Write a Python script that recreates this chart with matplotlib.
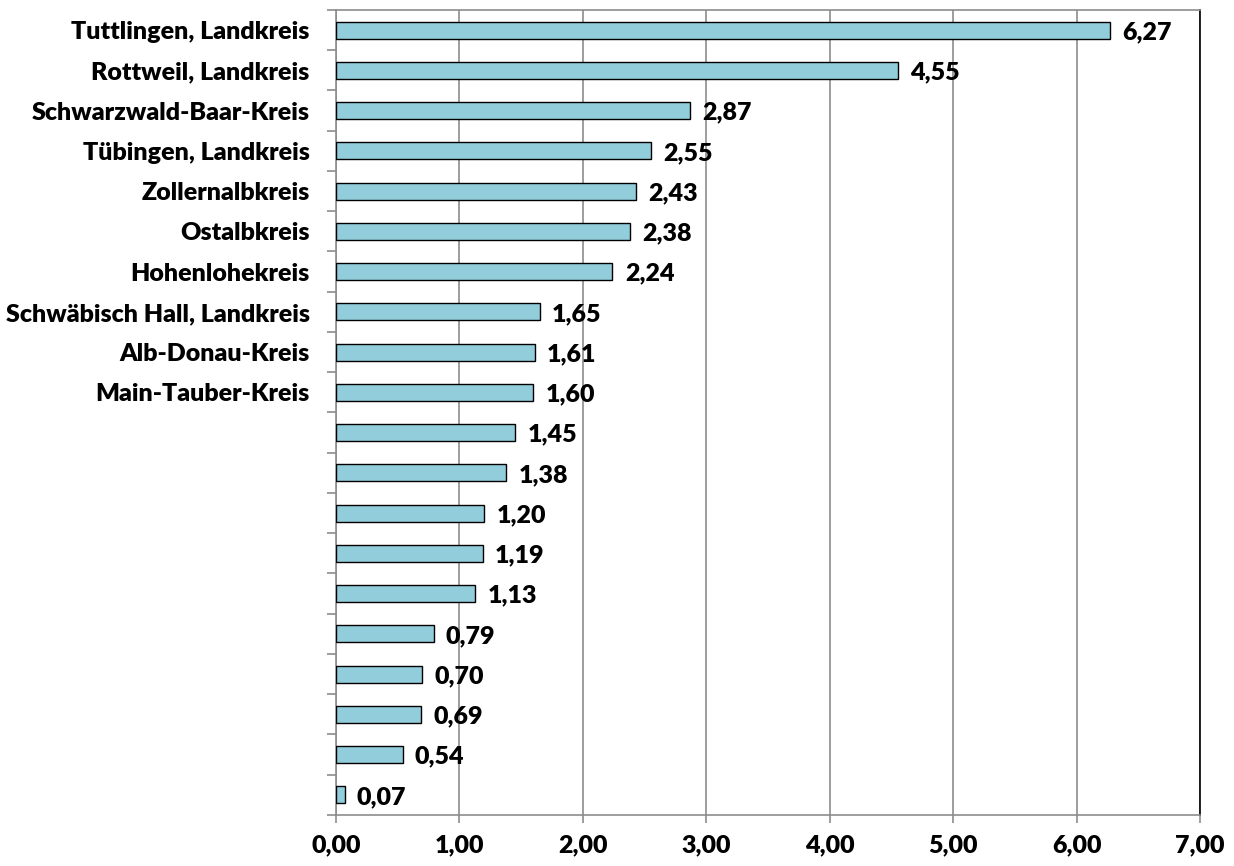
import numpy as np
import matplotlib.pyplot as plt

names = ["Tuttlingen, Landkreis", "Rottweil, Landkreis", "Schwarzwald-Baar-Kreis",
         "Tübingen, Landkreis", "Zollernalbkreis", "Ostalbkreis", "Hohenlohekreis",
         "Schwäbisch Hall, Landkreis", "Alb-Donau-Kreis", "Main-Tauber-Kreis",
         "", "", "", "", "", "", "", "", "", ""]
values = [6.27, 4.55, 2.87, 2.55, 2.43, 2.38, 2.24, 1.65, 1.61, 1.60,
          1.45, 1.38, 1.20, 1.19, 1.13, 0.79, 0.70, 0.69, 0.54, 0.07]
xticks = [0, 1, 2, 3, 4, 5, 6, 7]

plt.rcParams['font.family'] = ['Lato', 'DejaVu Sans']
plt.rcParams['font.weight'] = 'bold'
fs = 18

fig = plt.figure(figsize=(12.34, 8.66), dpi=100)
ax = fig.add_axes([336/1234, 1-815/866, (1200-336)/1234, (815-10)/866])

pos = np.arange(len(values))
ax.barh(pos, values, height=0.42, color='#92CDDC', edgecolor='black', linewidth=1.0, zorder=3)

for p, v in zip(pos, values):
    ax.text(v + 0.1, p + 0.05, f"{v:.2f}".replace('.', ','), va='center', ha='left',
            fontsize=fs, fontweight='heavy')

ax.set_xlim(0, 7)
ax.set_ylim(len(values) - 0.5, -0.5)
ax.set_xticks(xticks)
ax.set_xticklabels([f"{t:.2f}".replace('.', ',') for t in xticks], fontsize=fs, fontweight='heavy')
ax.set_yticks(pos)
ax.set_yticklabels(names, fontsize=fs, fontweight='heavy')
ax.set_yticks(np.arange(len(values) + 1) - 0.5, minor=True)
ax.tick_params(axis='y', which='major', length=0, pad=19)
ax.tick_params(axis='y', which='minor', length=6.5, color='#8c8c8c', width=1.2)
ax.tick_params(axis='x', length=6, color='#8c8c8c', width=1.2, pad=8)
ax.grid(axis='x', color='#8c8c8c', linewidth=1.2, zorder=0)

for s in ['left', 'bottom', 'top']:
    ax.spines[s].set_color('#8c8c8c')
    ax.spines[s].set_linewidth(1.2)
ax.spines['right'].set_color('black')
ax.spines['right'].set_linewidth(1.2)

fig.savefig('out.png', dpi=100)
